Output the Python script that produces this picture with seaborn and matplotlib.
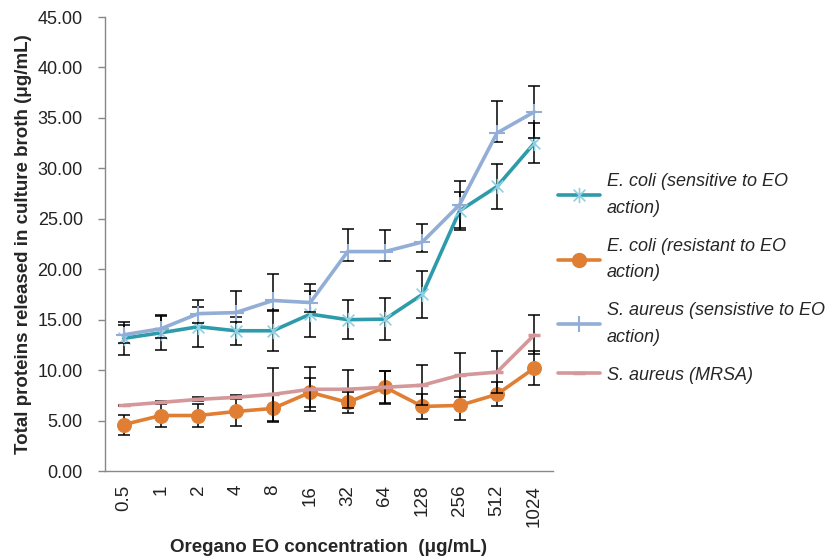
import numpy as np
import pandas as pd
import seaborn as sns
import matplotlib
matplotlib.use("Agg")
import matplotlib.pyplot as plt
from matplotlib.path import Path

concentrations = ["0.5", "1", "2", "4", "8", "16", "32", "64", "128", "256", "512", "1024"]

ecoli_sens = [13.15, 13.7, 14.3, 13.9, 13.9, 15.55, 15.0, 15.05, 17.5, 25.8, 28.2, 32.5]
ecoli_sens_err = [1.65, 1.7, 2.0, 1.4, 2.0, 2.25, 1.9, 2.05, 2.35, 1.9, 2.2, 2.0]

ecoli_res = [4.6, 5.5, 5.5, 5.9, 6.2, 7.8, 6.8, 8.3, 6.4, 6.5, 7.6, 10.2]
ecoli_res_err = [1.0, 1.15, 1.1, 1.4, 1.35, 1.45, 1.05, 1.6, 1.2, 1.4, 1.2, 1.7]

saureus_sens = [13.5, 14.1, 15.6, 15.7, 16.9, 16.7, 21.75, 21.75, 22.7, 26.4, 33.5, 35.6]
saureus_sens_err_lo = [0.85, 0.9, 0.9, 0.9, 0.9, 0.9, 0.9, 0.9, 1.0, 2.3, 0.9, 2.6]
saureus_sens_err_hi = [1.0, 1.35, 1.3, 2.15, 2.65, 1.85, 2.25, 2.1, 1.8, 2.3, 3.2, 2.6]

mrsa = [6.5, 6.8, 7.1, 7.3, 7.6, 8.1, 8.1, 8.3, 8.5, 9.5, 9.8, 13.5]
mrsa_err = [0.05, 0.1, 0.2, 0.2, 2.6, 2.2, 1.9, 1.65, 2.0, 2.2, 2.05, 1.95]

labels = ["E. coli (sensitive to EO\naction)",
          "E. coli (resistant to EO\naction)",
          "S. aureus (sensistive to EO\naction)",
          "S. aureus (MRSA)"]

sns.set_style("white")
plt.rcParams['font.family'] = ['Liberation Sans', 'DejaVu Sans']

# Excel-style asterisk marker: an "x" with a vertical bar
star_path = Path([(-1, -1), (1, 1), (-1, 1), (1, -1), (0, -1.3), (0, 1.3)],
                 [Path.MOVETO, Path.LINETO, Path.MOVETO, Path.LINETO, Path.MOVETO, Path.LINETO])

fig = plt.figure(figsize=(8.29, 5.58), dpi=100)
ax = fig.add_axes([105/829, 1-471/558, (553-105)/829, (471-17)/558])

x = np.arange(len(concentrations))
series = [
    (ecoli_sens, (ecoli_sens_err, ecoli_sens_err), "#2E9BAB",
     dict(marker=star_path, markersize=11, markeredgecolor="#8FD0E0", markerfacecolor="none", markeredgewidth=1.2)),
    (ecoli_res, (ecoli_res_err, ecoli_res_err), "#E07F33",
     dict(marker="o", markersize=10, markeredgecolor="#E07F33", markerfacecolor="#E07F33")),
    (saureus_sens, (saureus_sens_err_lo, saureus_sens_err_hi), "#93AED6",
     dict(marker="+", markersize=11, markeredgecolor="#93AED6", markeredgewidth=1.5)),
    (mrsa, (mrsa_err, mrsa_err), "#D4979A",
     dict(marker="_", markersize=8, markeredgecolor="#D4979A", markeredgewidth=2.5)),
]

handles = []
for i, (vals, (lo, hi), color, mk) in enumerate(series):
    z = 2 + i * 2
    ax.errorbar(x, vals, yerr=[lo, hi], fmt="none", ecolor="black",
                elinewidth=1.1, capsize=4, capthick=1.1, zorder=z)
    df = pd.DataFrame({"x": x, "y": vals})
    sns.lineplot(data=df, x="x", y="y", ax=ax, color=color, linewidth=2.6,
                 zorder=z + 1, legend=False, **mk)
    handles.append(plt.Line2D([], [], color=color, linewidth=2.6, **mk))

ax.set_xlim(-0.5, len(concentrations) - 0.5)
ax.set_ylim(0, 45)
yt = np.arange(0, 45.01, 5)
ax.set_yticks(yt)
ax.set_yticklabels([f"{v:.2f}" for v in yt], fontsize=13, color="#222222")
ax.set_xticks(x)
ax.set_xticklabels(concentrations, rotation=90, fontsize=13.5, color="#222222")
ax.set_xticks(np.arange(-0.5, len(concentrations), 1), minor=True)
ax.tick_params(axis="x", which="major", length=0, pad=10)
ax.tick_params(axis="x", which="minor", length=5, color="#888888", width=1, direction="out")
ax.tick_params(axis="y", which="major", length=5, color="#888888", width=1, direction="out", pad=11, left=True)

for side in ["top", "right"]:
    ax.spines[side].set_visible(False)
for side in ["left", "bottom"]:
    ax.spines[side].set_color("#888888")
    ax.spines[side].set_linewidth(1.0)

ax.set_xlabel("Oregano EO concentration  (μg/mL)", fontsize=13.5, fontweight="bold", labelpad=9)
ax.set_ylabel("Total proteins released in culture broth (μg/mL)", fontsize=13.5, fontweight="bold", labelpad=4)

leg = fig.legend(handles, labels, loc="upper left", bbox_to_anchor=(558/829, 1-173/558),
                 frameon=False, prop=dict(style="italic", size=13), handlelength=2.35,
                 labelspacing=1.15, handletextpad=0.35, borderpad=0, borderaxespad=0)
for t in leg.get_texts():
    t.set_linespacing(1.75)

fig.savefig("out.png", dpi=100)
